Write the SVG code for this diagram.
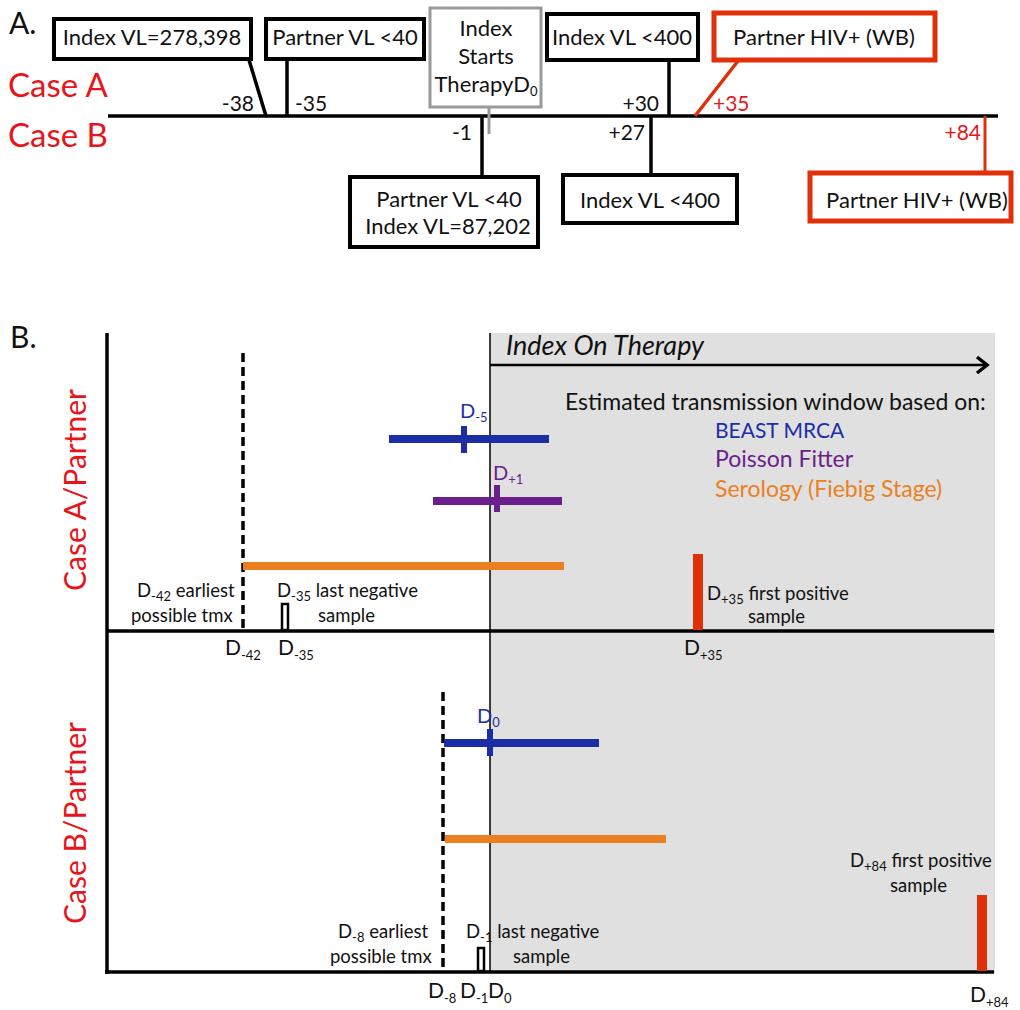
<svg xmlns="http://www.w3.org/2000/svg" width="1020" height="1010" viewBox="0 0 1020 1010">
<style>
text{font-family:Lato,"Open Sans","Liberation Sans",sans-serif;fill:#111}
.box{fill:#fff;stroke:#000;stroke-width:4}
.rbox{fill:#fff;stroke:#e0300a;stroke-width:5}
.gbox{fill:#fff;stroke:#9a9a9a;stroke-width:3}
.lbl{font-size:22px}
.num{font-size:21px}
.red{fill:#e8141a}
.case{font-size:30px;fill:#e8141a}
.caseh{font-size:33px;fill:#e8141a}
.conn{stroke:#000;stroke-width:3.5;fill:none}
.sm{font-size:18.5px}
.sub{font-size:13px}
.bar{stroke-width:8;fill:none}
.tick{stroke-width:6}
.blue{stroke:#1c2ea6}
.purple{stroke:#6a1f8c}
.orange{stroke:#ea8020}
.dash{stroke:#000;stroke-width:3.5;stroke-dasharray:9 5}
.axis{stroke:#000;stroke-width:3.5}
.leg{font-size:23px}
</style>

<!-- Part A -->
<text x="9" y="34" font-size="30">A.</text>
<text class="caseh" x="8" y="97">Case A</text>
<text class="caseh" x="8" y="147">Case B</text>

<g id="connectors">
  <line class="axis" x1="108" y1="116" x2="998" y2="116"/>
  <line class="conn" x1="249" y1="60" x2="266" y2="116"/>
  <line class="conn" x1="287" y1="60" x2="287" y2="116"/>
  <line x1="489" y1="107" x2="489" y2="134" stroke="#9a9a9a" stroke-width="3"/>
  <line class="conn" x1="669" y1="60" x2="669" y2="116"/>
  <line x1="738" y1="61" x2="695" y2="116" stroke="#e0300a" stroke-width="3.5"/>
  <line class="conn" x1="482" y1="116" x2="482" y2="177"/>
  <line class="conn" x1="651" y1="116" x2="651" y2="175"/>
  <line x1="985" y1="116" x2="985" y2="173" stroke="#e0300a" stroke-width="3"/>
  <text class="num" x="254" y="111" text-anchor="end">-38</text>
  <text class="num" x="295" y="111">-35</text>
  <text class="num" x="659" y="111" text-anchor="end">+30</text>
  <text class="num red" x="713" y="111">+35</text>
  <text class="num" x="472" y="140" text-anchor="end">-1</text>
  <text class="num" x="645" y="140" text-anchor="end">+27</text>
  <text class="num red" x="981" y="140" text-anchor="end">+84</text>
</g>

<g id="n-index-vl-278398">
  <rect class="box" x="54" y="19" width="197" height="40"/>
  <text class="lbl" x="152" y="45" text-anchor="middle">Index VL=278,398</text>
</g>
<g id="n-partner-vl-40-a">
  <rect class="box" x="266" y="19" width="158" height="40"/>
  <text class="lbl" x="345" y="45" text-anchor="middle">Partner VL &lt;40</text>
</g>
<g id="n-index-starts-therapy">
  <rect class="gbox" x="430" y="8" width="111" height="99"/>
  <text class="lbl" x="486" y="36" text-anchor="middle">Index</text>
  <text class="lbl" x="486" y="64" text-anchor="middle">Starts</text>
  <text class="lbl" x="486" y="92" text-anchor="middle">TherapyD<tspan class="sub" font-size="14" dy="4">0</tspan></text>
</g>
<g id="n-index-vl-400-a">
  <rect class="box" x="547" y="14" width="151" height="46"/>
  <text class="lbl" x="622" y="45" text-anchor="middle">Index VL &lt;400</text>
</g>
<g id="n-partner-hiv-a">
  <rect class="rbox" x="714" y="13" width="221" height="47"/>
  <text class="lbl" x="824" y="45" text-anchor="middle">Partner HIV+ (WB)</text>
</g>
<g id="n-partner-vl-40-b">
  <rect class="box" x="350" y="177" width="188" height="70"/>
  <text class="lbl" x="449" y="207" text-anchor="middle">Partner VL &lt;40</text>
  <text class="lbl" x="448" y="234" text-anchor="middle">Index VL=87,202</text>
</g>
<g id="n-index-vl-400-b">
  <rect class="box" x="563" y="175" width="174" height="48"/>
  <text class="lbl" x="650" y="208" text-anchor="middle">Index VL &lt;400</text>
</g>
<g id="n-partner-hiv-b">
  <rect class="rbox" x="810" y="173" width="201" height="48"/>
  <text class="lbl" x="917" y="208" text-anchor="middle">Partner HIV+ (WB)</text>
</g>

<!-- Part B -->
<g id="panel-b">
  <text x="10" y="348" font-size="30">B.</text>
  <rect x="490" y="333" width="505" height="640" fill="#e0e0e0"/>
  <line x1="490" y1="333" x2="490" y2="972" stroke="#000" stroke-width="1.5"/>
  <line class="axis" x1="107" y1="333" x2="107" y2="974"/>
  <line class="axis" x1="107" y1="631" x2="994" y2="631"/>
  <line class="axis" x1="105" y1="972" x2="994" y2="972"/>
  <text class="case" transform="translate(86,490) rotate(-90)" text-anchor="middle">Case A/Partner</text>
  <text class="case" transform="translate(86,823) rotate(-90)" text-anchor="middle">Case B/Partner</text>

  <g id="index-on-therapy">
    <text x="506" y="355" font-size="27" font-style="italic">Index On Therapy</text>
    <line x1="490" y1="365" x2="986" y2="365" stroke="#000" stroke-width="2.5"/>
    <polyline points="977,357 987,365 977,373" fill="none" stroke="#000" stroke-width="3.5"/>
  </g>

  <g id="legend">
    <text class="leg" x="565" y="410">Estimated transmission window based on:</text>
    <text x="715" y="438" font-size="21" style="fill:#1c2ea6">BEAST MRCA</text>
    <text class="leg" x="715" y="467" style="fill:#6a1f8c">Poisson Fitter</text>
    <text class="leg" x="715" y="497" style="fill:#ea8020">Serology (Fiebig Stage)</text>
  </g>

  <g id="case-a-windows">
    <line class="dash" x1="243" y1="353" x2="243" y2="630"/>
    <line class="bar blue" x1="389" y1="439" x2="549" y2="439"/>
    <line class="tick blue" x1="464" y1="426" x2="464" y2="453"/>
    <text x="460" y="418" font-size="20" style="fill:#1c2ea6">D<tspan class="sub" dy="4">-5</tspan></text>
    <line class="bar purple" x1="433" y1="501" x2="562" y2="501"/>
    <line class="tick purple" x1="497" y1="485" x2="497" y2="512"/>
    <text x="493" y="480" font-size="20" style="fill:#6a1f8c">D<tspan class="sub" dy="4">+1</tspan></text>
    <line class="bar orange" x1="243" y1="566" x2="564" y2="566"/>
    <rect x="282" y="604" width="6" height="26" fill="#fff" stroke="#000" stroke-width="2.5"/>
    <rect x="693" y="554" width="10" height="76" fill="#e0300a"/>
    <text class="sm" x="137" y="597">D<tspan class="sub" dy="4">-42</tspan><tspan dy="-4"> earliest</tspan></text>
    <text class="sm" x="131" y="622">possible tmx</text>
    <text class="sm" x="277" y="597">D<tspan class="sub" dy="4">-35</tspan><tspan dy="-4"> last negative</tspan></text>
    <text class="sm" x="318" y="622">sample</text>
    <text class="sm" x="707" y="600">D<tspan class="sub" dy="4">+35</tspan><tspan dy="-4"> first positive</tspan></text>
    <text class="sm" x="748" y="623">sample</text>
    <text x="225" y="655" font-size="21">D<tspan class="sub" font-size="14" dy="5">-42</tspan></text>
    <text x="278" y="655" font-size="21">D<tspan class="sub" font-size="14" dy="5">-35</tspan></text>
    <text x="684" y="655" font-size="21">D<tspan class="sub" font-size="14" dy="5">+35</tspan></text>
  </g>

  <g id="case-b-windows">
    <line class="dash" x1="443" y1="692" x2="443" y2="971"/>
    <line class="bar blue" x1="444" y1="743" x2="599" y2="743"/>
    <line class="tick blue" x1="490" y1="729" x2="490" y2="756"/>
    <text x="477" y="723" font-size="20" style="fill:#1c2ea6">D<tspan class="sub" dy="4">0</tspan></text>
    <line class="bar orange" x1="445" y1="839" x2="666" y2="839"/>
    <rect x="478" y="948" width="6" height="23" fill="#fff" stroke="#000" stroke-width="2.5"/>
    <rect x="977" y="895" width="10" height="76" fill="#e0300a"/>
    <text class="sm" x="338" y="938">D<tspan class="sub" dy="4">-8</tspan><tspan dy="-4"> earliest</tspan></text>
    <text class="sm" x="330" y="963">possible tmx</text>
    <text class="sm" x="466" y="938">D<tspan class="sub" dy="4">-1</tspan><tspan dy="-4"> last negative</tspan></text>
    <text class="sm" x="513" y="963">sample</text>
    <text class="sm" x="850" y="867">D<tspan class="sub" dy="4">+84</tspan><tspan dy="-4"> first positive</tspan></text>
    <text class="sm" x="890" y="892">sample</text>
    <text x="428" y="998" font-size="21">D<tspan class="sub" font-size="14" dy="5">-8</tspan></text>
    <text x="460" y="998" font-size="21">D<tspan class="sub" font-size="14" dy="5">-1</tspan></text>
    <text x="488" y="998" font-size="21">D<tspan class="sub" font-size="14" dy="5">0</tspan></text>
    <text x="970" y="1002" font-size="21">D<tspan class="sub" font-size="14" dy="5">+84</tspan></text>
  </g>
</g>
</svg>
